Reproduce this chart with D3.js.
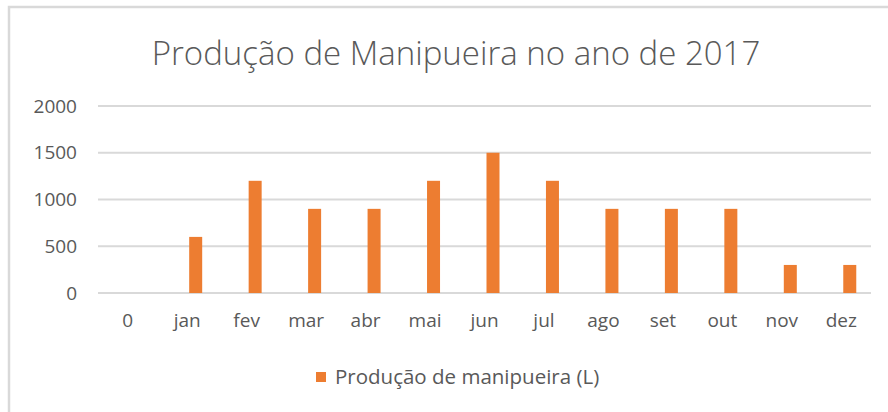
<!DOCTYPE html>
<meta charset="utf-8">
<style>
body { margin: 0; background: #fff; }
text { font-family: "Open Sans", "Noto Sans", sans-serif; fill: #595959; }
.grid line { stroke: #d9d9d9; stroke-width: 2px; }
.bar { fill: #ed7d31; }
</style>
<body>
<script src="https://d3js.org/d3.v7.min.js"></script>
<script>

// chart data
var meses = ["0", "jan", "fev", "mar", "abr", "mai", "jun", "jul", "ago", "set", "out", "nov", "dez"];
var producao = [0, 600, 1200, 900, 900, 1200, 1500, 1200, 900, 900, 900, 300, 300];
var yTicks = [0, 500, 1000, 1500, 2000];
var titulo = "Produção de Manipueira no ano de 2017";
var serieNome = "Produção de manipueira (L)";

var width = 888, height = 412;

var svg = d3.select("body").append("svg")
    .attr("width", width)
    .attr("height", height);

// chart frame
svg.append("rect")
    .attr("x", 9).attr("y", 7)
    .attr("width", width + 10).attr("height", height + 10)
    .attr("fill", "#fff")
    .attr("stroke", "#d9d9d9")
    .attr("stroke-width", 2.5);

// scales
var x = d3.scaleBand().domain(meses).range([98, 871]).padding(0);
// two slots per category (first one empty, like the excel chart)
var xSub = d3.scaleBand().domain(["vazio", "serie"])
    .range([0, x.bandwidth()])
    .paddingInner(0.235).paddingOuter(0.867);
var y = d3.scaleLinear().domain([0, 2000]).range([293, 106]);

// gridlines
svg.append("g")
    .attr("class", "grid")
  .selectAll("line")
    .data(yTicks)
  .enter().append("line")
    .attr("x1", 98).attr("x2", 871)
    .attr("y1", function(d) { return y(d); })
    .attr("y2", function(d) { return y(d); });

// y axis
var yAxis = svg.append("g")
    .attr("transform", "translate(77,0)")
    .call(d3.axisLeft(y).tickValues(yTicks).tickFormat(d3.format("d")).tickSize(0).tickPadding(0));
yAxis.select(".domain").remove();
yAxis.selectAll("text")
    .style("font-size", "19px")
    .attr("fill", "#595959");

// x axis
var xAxis = svg.append("g")
    .attr("transform", "translate(0,313)")
    .call(d3.axisBottom(x).tickSize(0).tickPadding(0));
xAxis.select(".domain").remove();
xAxis.selectAll("text")
    .style("font-size", "19px")
    .attr("fill", "#595959");

// bars
svg.selectAll(".bar")
    .data(producao)
  .enter().append("rect")
    .attr("class", "bar")
    .attr("x", function(d, i) { return x(meses[i]) + xSub("serie"); })
    .attr("width", xSub.bandwidth())
    .attr("y", function(d) { return y(d); })
    .attr("height", function(d) { return y(0) - y(d); });

// title
svg.append("text")
    .attr("x", 456).attr("y", 65)
    .attr("text-anchor", "middle")
    .style("font-size", "33px")
    .style("font-weight", 300)
    .text(titulo);

// legend
svg.append("rect")
    .attr("x", 316).attr("y", 372)
    .attr("width", 10).attr("height", 10)
    .attr("class", "bar");
svg.append("text")
    .attr("x", 335).attr("y", 384)
    .style("font-size", "20.5px")
    .text(serieNome);

</script>
</body>
